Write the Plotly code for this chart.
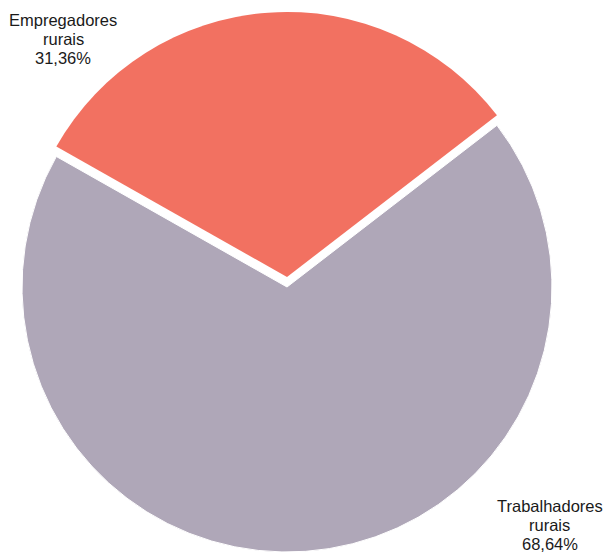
import plotly.graph_objects as go

categories = ["Empregadores rurais", "Trabalhadores rurais"]
label_lines = [["Empregadores", "rurais"], ["Trabalhadores", "rurais"]]
values = [31.36, 68.64]
value_labels = ["31,36%", "68,64%"]
colors = ["#F27161", "#AFA7B8"]

W, H = 606, 554
R = 265
cx = 287
cy_grey = 287
cy_red = 277

def dom(cx, cy, r):
    return dict(x=[max(0, (cx - r) / W), min(1, (cx + r) / W)],
                y=[max(0, 1 - (cy + r) / H), min(1, 1 - (cy - r) / H)])

fig = go.Figure()
# grey slice (red slice transparent here)
fig.add_trace(go.Pie(
    labels=categories, values=values, sort=False, direction="clockwise",
    rotation=-60.5, textinfo="none", hoverinfo="label+percent",
    marker=dict(colors=["rgba(0,0,0,0)", colors[1]],
                line=dict(color="white", width=1)),
    domain=dom(cx, cy_grey, R), showlegend=False,
))
# red slice, offset (exploded) upward
fig.add_trace(go.Pie(
    labels=categories, values=values, sort=False, direction="clockwise",
    rotation=-60.5, textinfo="none", hoverinfo="label+percent",
    marker=dict(colors=[colors[0], "rgba(0,0,0,0)"],
                line=dict(color="rgba(0,0,0,0)", width=0)),
    domain=dom(cx, cy_red, R), showlegend=False,
))

# label blocks: centre x, y of first line (cap centre), line spacing
label_pos = [(63, 20.5), (549.5, 506.3)]
LS = 18.8
for (lx, ly), lines, v in zip(label_pos, label_lines, value_labels):
    for i, t in enumerate(lines + [v]):
        fig.add_annotation(
            x=lx / W, y=1 - (ly + i * LS) / H, xref="paper", yref="paper",
            text=t, showarrow=False, xanchor="center", yanchor="middle",
            align="center", borderpad=0,
            font=dict(family="Liberation Sans, Arial, sans-serif", size=16.5, color="#1a1a1a"),
        )

fig.update_layout(
    width=W, height=H, margin=dict(l=0, r=0, t=0, b=0),
    paper_bgcolor="white", plot_bgcolor="white",
)

fig.write_html(
    "out.html",
    config={"displayModeBar": False},
    post_script="document.body.style.margin='0';document.body.style.overflow='hidden';",
)
